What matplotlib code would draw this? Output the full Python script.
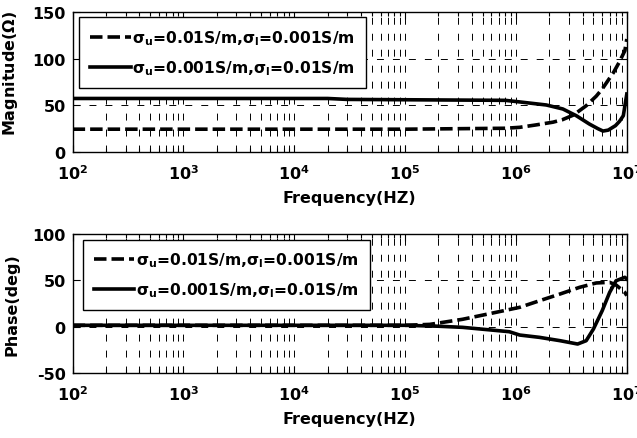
import numpy as np
import matplotlib
matplotlib.use('Agg')
import matplotlib.pyplot as plt
from matplotlib.ticker import LogLocator, FuncFormatter, NullFormatter

# 数据
f_mag_a = [1e2, 1e5, 8e5, 1.08e6, 1.5e6, 2.15e6, 2.6e6, 3.3e6, 4.3e6, 5.3e6, 6e6, 7.6e6, 8.5e6, 9.6e6, 1e7]
mag_a = [24.5, 24.5, 25.5, 26.5, 29, 32, 34.5, 39.7, 49.7, 60, 67.7, 85.6, 96, 108.8, 121.4]

f_mag_b = [1e2, 2e4, 3e4, 8e5, 1.08e6, 1.88e6, 2.65e6, 3.5e6, 4.6e6, 5.5e6, 6.1e6, 6.8e6, 7.9e6, 8.6e6, 9.3e6, 1e7]
mag_b = [57.5, 57.5, 56.5, 55.5, 53.8, 50.5, 46.2, 39, 30, 25, 22.5, 23.5, 28.3, 33, 39, 62.3]

f_ph_a = [1e2, 1e5, 1.67e5, 3.3e5, 6.6e5, 1.08e6, 1.63e6, 2.5e6, 3.75e6, 5.3e6, 7e6, 8e6, 9.6e6, 1e7]
ph_a = [1.5, 1.5, 2.5, 8, 15.5, 20.9, 28, 35.3, 42.5, 47.2, 47.9, 45, 37, 33.5]

f_ph_b = [1e2, 1e5, 2e5, 3.3e5, 8.7e5, 1.08e6, 1.63e6, 2.5e6, 3.6e6, 4.3e6, 5e6, 6e6, 7e6, 8e6, 9.6e6, 1e7]
ph_b = [1.5, 1.5, 0.5, -0.7, -5.4, -9, -11.5, -15.1, -18.7, -15.1, -2.5, 17.3, 37, 49.6, 53.3, 51.5]

labels = [r'$\sigma_u$=0.01S/m,$\sigma_l$=0.001S/m', r'$\sigma_u$=0.001S/m,$\sigma_l$=0.01S/m']

plt.rcParams['font.family'] = ['DejaVu Sans']
plt.rcParams['font.weight'] = 'bold'
plt.rcParams['mathtext.fontset'] = 'dejavusans'
plt.rcParams['mathtext.default'] = 'bf'
plt.rcParams['lines.scale_dashes'] = False
plt.rcParams['axes.unicode_minus'] = False

fig = plt.figure(figsize=(6.37, 4.39), dpi=100)
ax1 = fig.add_axes([0.114, 0.6515, 0.870, 0.318])
ax2 = fig.add_axes([0.114, 0.148, 0.870, 0.3166])

dash_curve = (0, (9, 3.6))
dash_grid = (0, (5, 6.5))


def fmt_log(x, pos):
    return r'$\mathbf{10^{%d}}$' % int(round(np.log10(x)))


def setup(ax, ylim, yticks, ylabel, leg_anchor):
    ax.set_xscale('log')
    ax.set_xlim(1e2, 1e7)
    ax.set_ylim(*ylim)
    ax.set_yticks(yticks)
    ax.xaxis.set_major_locator(LogLocator(base=10, numticks=10))
    ax.xaxis.set_minor_locator(LogLocator(base=10, subs=np.arange(2, 10), numticks=20))
    ax.xaxis.set_major_formatter(FuncFormatter(fmt_log))
    ax.xaxis.set_minor_formatter(NullFormatter())
    ax.tick_params(which='both', direction='in', top=True, right=True, width=0.8)
    ax.tick_params(which='major', length=5, labelsize=11.5, pad=5)
    ax.tick_params(axis='x', which='major', pad=8)
    ax.tick_params(which='minor', length=3)
    ax.grid(which='major', linestyle=dash_grid, linewidth=0.7, color='k')
    ax.grid(which='minor', axis='x', linestyle=dash_grid, linewidth=0.7, color='k')
    for s in ax.spines.values():
        s.set_linewidth(1.0)
    ax.set_xlabel('Frequency(HZ)', fontsize=11.5, fontweight='bold', labelpad=6)
    ax.set_ylabel(ylabel, fontsize=11.5, fontweight='bold')
    leg = ax.legend(loc='upper left', bbox_to_anchor=leg_anchor, fontsize=11.2, frameon=True,
                    fancybox=False, framealpha=1, edgecolor='k', handlelength=2.6,
                    handletextpad=0.1, labelspacing=0.72, borderpad=0.7, borderaxespad=0)
    leg.get_frame().set_linewidth(1.0)


ax1.plot(f_mag_a, mag_a, color='k', linewidth=2.6, linestyle=dash_curve, label=labels[0])
ax1.plot(f_mag_b, mag_b, color='k', linewidth=2.6, linestyle='-', label=labels[1])
setup(ax1, (0, 150), [0, 50, 100, 150], r'Magnitude($\Omega$)', (0.012, 0.965))
ax1.yaxis.set_label_coords(-0.095, 0.57)

ax2.plot(f_ph_a, ph_a, color='k', linewidth=2.6, linestyle=dash_curve, label=labels[0])
ax2.plot(f_ph_b, ph_b, color='k', linewidth=2.6, linestyle='-', label=labels[1])
setup(ax2, (-50, 100), [-50, 0, 50, 100], 'Phase(deg)', (0.019, 0.96))
ax2.yaxis.set_label_coords(-0.095, 0.5)

plt.savefig('out.png', dpi=100)
